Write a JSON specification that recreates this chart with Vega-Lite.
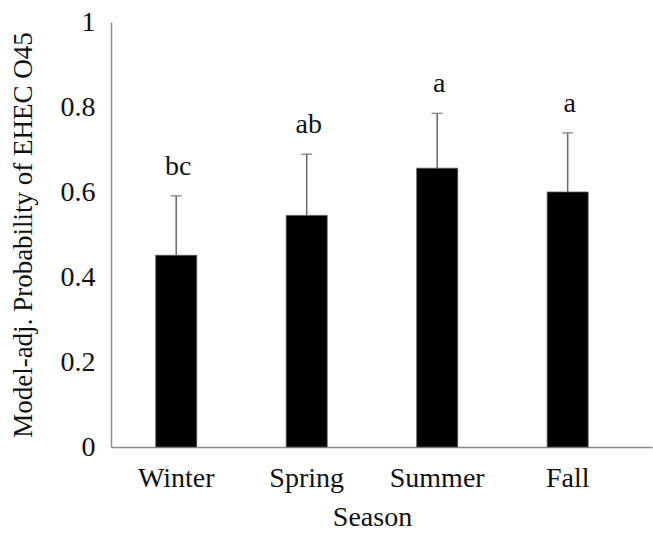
{
  "$schema": "https://vega.github.io/schema/vega-lite/v6.json",
  "width": 541,
  "height": 425,
  "autosize": "none",
  "padding": {"left": 111, "top": 22, "right": 1, "bottom": 88},
  "background": "white",
  "config": {
    "view": {"stroke": null},
    "font": "Liberation Serif",
    "axis": {
      "labelFont": "Liberation Serif",
      "titleFont": "Liberation Serif",
      "labelColor": "#111111",
      "titleColor": "#111111",
      "titleFontWeight": "normal",
      "domainColor": "#8c8c8c",
      "domainWidth": 1.5,
      "grid": false,
      "ticks": false
    }
  },
  "data": {
    "values": [
      {"Season": "Winter", "p": 0.451, "upper": 0.591, "group": "bc"},
      {"Season": "Spring", "p": 0.545, "upper": 0.689, "group": "ab"},
      {"Season": "Summer", "p": 0.656, "upper": 0.785, "group": "a"},
      {"Season": "Fall", "p": 0.600, "upper": 0.739, "group": "a"}
    ]
  },
  "encoding": {
    "x": {
      "field": "Season",
      "type": "nominal",
      "sort": null,
      "scale": {"paddingInner": 0.686, "paddingOuter": 0.416, "align": 0.412},
      "axis": {"labelAngle": 0, "labelFontSize": 28, "titleFontSize": 28, "labelPadding": 17, "titlePadding": 11, "titleX": 261, "title": "Season"}
    }
  },
  "layer": [
    {
      "mark": {"type": "bar", "color": "#000000", "stroke": "#555555", "strokeWidth": 0.8},
      "encoding": {
        "y": {
          "field": "p",
          "type": "quantitative",
          "scale": {"domain": [0, 1]},
          "axis": {
            "values": [0, 0.2, 0.4, 0.6, 0.8, 1],
            "format": ".1~f",
            "labelFontSize": 28,
            "titleFontSize": 27,
            "labelPadding": 16,
            "titlePadding": 23,
            "title": "Model-adj. Probability of EHEC O45"
          }
        }
      }
    },
    {
      "mark": {"type": "rule", "color": "#666666", "strokeWidth": 1.5},
      "encoding": {
        "y": {"field": "p", "type": "quantitative"},
        "y2": {"field": "upper"}
      }
    },
    {
      "mark": {"type": "tick", "color": "#666666", "thickness": 1.5, "size": 11},
      "encoding": {
        "y": {"field": "upper", "type": "quantitative"}
      }
    },
    {
      "mark": {"type": "text", "fontSize": 28, "color": "#111111", "baseline": "alphabetic", "dy": -21, "dx": 2},
      "encoding": {
        "y": {"field": "upper", "type": "quantitative"},
        "text": {"field": "group"}
      }
    }
  ]
}
